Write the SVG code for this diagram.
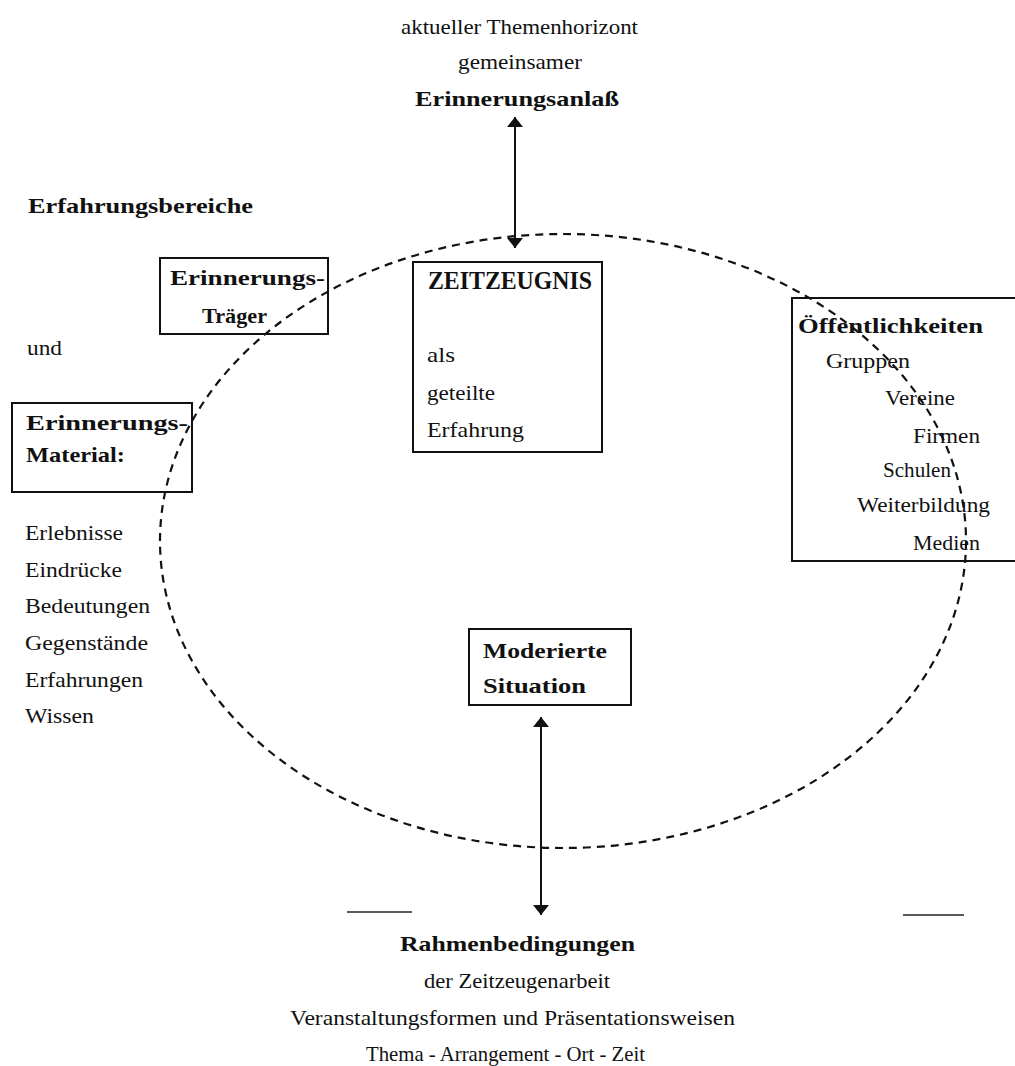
<svg xmlns="http://www.w3.org/2000/svg" width="1015" height="1066" viewBox="0 0 1015 1066">
<style>
text{font-family:"Liberation Serif","Times New Roman",serif;fill:#111;}
.r{font-size:21px;}
.b{font-size:22px;font-weight:bold;}
.big{font-size:25px;font-weight:bold;}
.box{fill:none;stroke:#111;stroke-width:2;}
.arrow{stroke:#111;stroke-width:2;fill:none;marker-start:url(#ah);marker-end:url(#ah);}
.ell{fill:none;stroke:#111;stroke-width:2.2;stroke-dasharray:8 6;}
.rule{stroke:#222;stroke-width:1.3;}
</style>
<defs>
<marker id="ah" viewBox="0 0 10 16" markerWidth="10" markerHeight="16" refX="10" refY="8" orient="auto-start-reverse" markerUnits="userSpaceOnUse">
<path d="M0,0 L10,8 L0,16 z" fill="#111"/>
</marker>
</defs>
<rect width="1015" height="1066" fill="#fff"/>

<g id="anlass">
<text class="r" x="401" y="34" textLength="237" lengthAdjust="spacingAndGlyphs">aktueller Themenhorizont</text>
<text class="r" x="458" y="69" textLength="124" lengthAdjust="spacingAndGlyphs">gemeinsamer</text>
<text class="b" x="415" y="106" textLength="204" lengthAdjust="spacingAndGlyphs">Erinnerungsanlaß</text>
</g>

<g id="erfahrungsbereiche">
<text class="b" x="28" y="213" textLength="225" lengthAdjust="spacingAndGlyphs">Erfahrungsbereiche</text>
<text class="r" x="27" y="355" textLength="35" lengthAdjust="spacingAndGlyphs">und</text>
</g>

<g id="traeger">
<rect class="box" x="160" y="258" width="168" height="76"/>
<text class="b" x="170" y="285" textLength="155" lengthAdjust="spacingAndGlyphs">Erinnerungs-</text>
<text class="b" x="202" y="323" textLength="65" lengthAdjust="spacingAndGlyphs">Träger</text>
</g>

<g id="material">
<rect class="box" x="12" y="403" width="180" height="89"/>
<text class="b" x="26" y="430" textLength="162" lengthAdjust="spacingAndGlyphs">Erinnerungs-</text>
<text class="b" x="26" y="462" textLength="99" lengthAdjust="spacingAndGlyphs">Material:</text>
</g>

<g id="materialliste">
<text class="r" x="25" y="540" textLength="98" lengthAdjust="spacingAndGlyphs">Erlebnisse</text>
<text class="r" x="25" y="577" textLength="97" lengthAdjust="spacingAndGlyphs">Eindrücke</text>
<text class="r" x="25" y="613" textLength="125" lengthAdjust="spacingAndGlyphs">Bedeutungen</text>
<text class="r" x="25" y="650" textLength="123" lengthAdjust="spacingAndGlyphs">Gegenstände</text>
<text class="r" x="25" y="687" textLength="118" lengthAdjust="spacingAndGlyphs">Erfahrungen</text>
<text class="r" x="25" y="723" textLength="69" lengthAdjust="spacingAndGlyphs">Wissen</text>
</g>

<g id="zeitzeugnis">
<rect class="box" x="413" y="262" width="189" height="190"/>
<text class="big" x="428" y="289" textLength="164" lengthAdjust="spacingAndGlyphs">ZEITZEUGNIS</text>
<text class="r" x="427" y="362" textLength="28" lengthAdjust="spacingAndGlyphs">als</text>
<text class="r" x="427" y="400" textLength="68" lengthAdjust="spacingAndGlyphs">geteilte</text>
<text class="r" x="427" y="437" textLength="97" lengthAdjust="spacingAndGlyphs">Erfahrung</text>
</g>

<g id="oeffentlichkeiten">
<rect class="box" x="792" y="298" width="240" height="263"/>
<text class="b" x="798" y="333" textLength="185" lengthAdjust="spacingAndGlyphs">Öffentlichkeiten</text>
<text class="r" x="826" y="368" textLength="84" lengthAdjust="spacingAndGlyphs">Gruppen</text>
<text class="r" x="885" y="405" textLength="70" lengthAdjust="spacingAndGlyphs">Vereine</text>
<text class="r" x="913" y="443" textLength="67" lengthAdjust="spacingAndGlyphs">Firmen</text>
<text class="r" x="883" y="477" textLength="68" lengthAdjust="spacingAndGlyphs">Schulen</text>
<text class="r" x="857" y="512" textLength="133" lengthAdjust="spacingAndGlyphs">Weiterbildung</text>
<text class="r" x="913" y="550" textLength="67" lengthAdjust="spacingAndGlyphs">Medien</text>
</g>

<g id="moderierte">
<rect class="box" x="469" y="629" width="162" height="76"/>
<text class="b" x="483" y="658" textLength="124" lengthAdjust="spacingAndGlyphs">Moderierte</text>
<text class="b" x="483" y="693" textLength="103" lengthAdjust="spacingAndGlyphs">Situation</text>
</g>

<g id="rahmen">
<text class="b" x="400" y="951" textLength="235" lengthAdjust="spacingAndGlyphs">Rahmenbedingungen</text>
<text class="r" x="424" y="988" textLength="186" lengthAdjust="spacingAndGlyphs">der Zeitzeugenarbeit</text>
<text class="r" x="290" y="1025" textLength="445" lengthAdjust="spacingAndGlyphs">Veranstaltungsformen und Präsentationsweisen</text>
<text class="r" x="366" y="1061" textLength="279" lengthAdjust="spacingAndGlyphs">Thema - Arrangement - Ort - Zeit</text>
</g>

<g id="zeitzeugnis-kreis">
<ellipse class="ell" cx="563" cy="541" rx="403" ry="307"/>
</g>

<g id="connectors">
<line class="arrow" x1="515" y1="117" x2="515" y2="248"/>
<line class="arrow" x1="541" y1="717" x2="541" y2="915"/>
<line class="rule" x1="347" y1="912" x2="412" y2="912"/>
<line class="rule" x1="903" y1="915" x2="964" y2="915"/>
</g>
</svg>
